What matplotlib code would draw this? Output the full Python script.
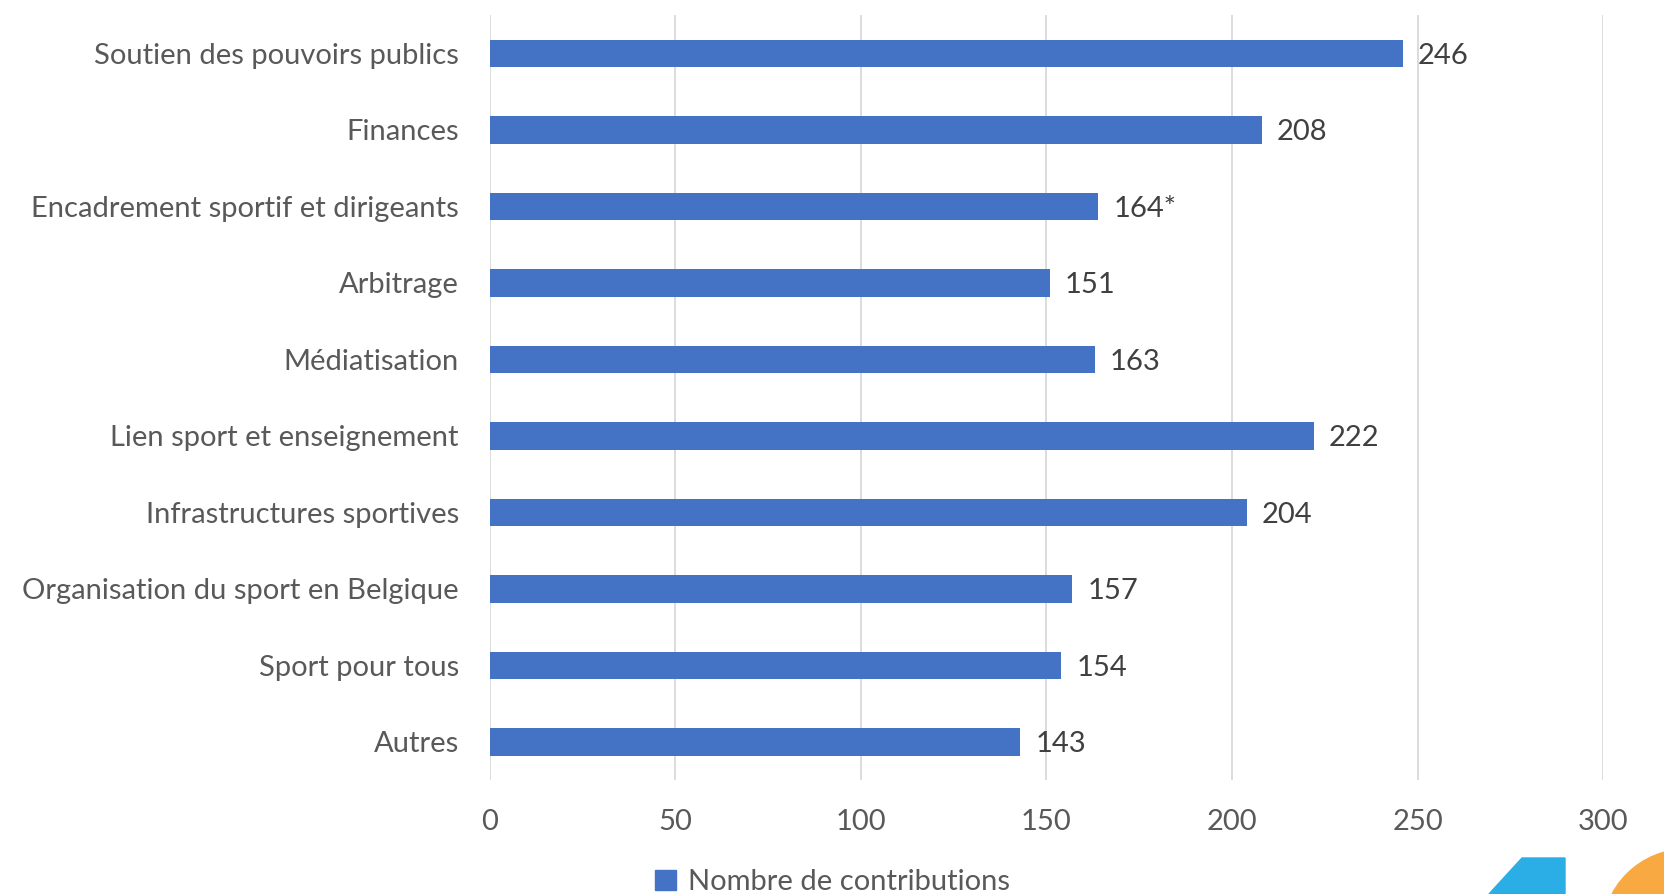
import matplotlib.pyplot as plt
from matplotlib.patches import Polygon, Circle, Patch

categories = ["Soutien des pouvoirs publics", "Finances", "Encadrement sportif et dirigeants",
              "Arbitrage", "Médiatisation", "Lien sport et enseignement",
              "Infrastructures sportives", "Organisation du sport en Belgique",
              "Sport pour tous", "Autres"]
values = [246, 208, 164, 151, 163, 222, 204, 157, 154, 143]
value_labels = ["246", "208", "164*", "151", "163", "222", "204", "157", "154", "143"]
xticks = [0, 50, 100, 150, 200, 250, 300]
series_name = "Nombre de contributions"

plt.rcParams['font.family'] = ['Lato', 'DejaVu Sans']
bar_color = '#4472C4'
text_color = '#595959'

fig = plt.figure(figsize=(16.65, 8.94), dpi=100)
ax = fig.add_axes([0.294, 0.1275, 0.669, 0.8555])

y = range(len(categories))
ax.barh(y, values, height=0.36, color=bar_color, zorder=3)
for yi, v, lab in zip(y, values, value_labels):
    ax.text(v + 4, yi + 0.03, lab, va='center', ha='left', fontsize=21, color='#404040')

ax.set_ylim(len(categories) - 0.5, -0.5)
ax.set_xlim(0, 300)
ax.set_xticks(xticks)
ax.set_yticks(list(y))
ax.set_yticklabels(categories)
ax.tick_params(axis='both', length=0, labelsize=21, colors=text_color)
ax.tick_params(axis='x', pad=21)
ax.tick_params(axis='y', pad=22)
ax.grid(axis='x', color='#D9D9D9', linewidth=1.3, zorder=0)
for s in ax.spines.values():
    s.set_visible(False)

fig.legend(handles=[Patch(color=bar_color)], labels=[series_name], loc='center',
           bbox_to_anchor=(0.5, 0.0135), frameon=False, fontsize=21,
           handlelength=0.7, handleheight=0.7, handletextpad=0.4, labelcolor=text_color)

# decorative shapes at bottom-right corner (pixel coords)
fig.patches.append(Polygon([(1489, 0), (1522, 36), (1565, 36), (1565, 0)], closed=True,
                           transform=None, color='#2BAEE6', zorder=5))
fig.patches.append(Circle((1687, -40), 85, transform=None, color='#F9A942', zorder=5))

fig.savefig('out.png', dpi=100)
